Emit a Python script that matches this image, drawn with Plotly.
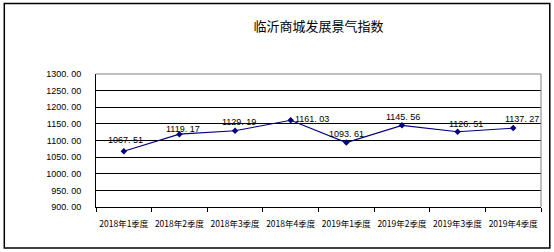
import plotly.graph_objects as go

categories = ["2018年1季度", "2018年2季度", "2018年3季度", "2018年4季度",
              "2019年1季度", "2019年2季度", "2019年3季度", "2019年4季度"]
values = [1067.51, 1119.17, 1129.19, 1161.03, 1093.61, 1145.56, 1126.51, 1137.27]
y_ticks = [900, 950, 1000, 1050, 1100, 1150, 1200, 1250, 1300]
title = "临沂商城发展景气指数"

W, H = 554, 252
L, R, T, B = 95.7, 540.7, 74.3, 206.7

def fmt(v):
    return "{:.2f}".format(v).replace(".", ". ")

fig = go.Figure()
fig.add_trace(go.Scatter(
    x=categories, y=values, mode="lines+markers",
    line=dict(color="#000080", width=1.1),
    marker=dict(symbol="diamond", size=5, color="#000080"),
    showlegend=False, hoverinfo="skip",
))

# label offsets (pixels): style only
xs = [2, 4, 4, 21, 0, 1, 8, 9]
ys = [11, 5, 9, 1, 9, 8, 8, 9]
for c, v, dx, dy in zip(categories, values, xs, ys):
    fig.add_annotation(x=c, y=v, text=fmt(v), showarrow=False,
                       xshift=dx, yshift=dy,
                       font=dict(family="Liberation Sans", size=9, color="#000000"))

def px_x(p):
    return (p - L) / (R - L)

def px_y(p):
    return (B - p) / (B - T)

fig.add_shape(type="rect", xref="paper", yref="paper",
              x0=px_x(4), x1=px_x(549.5), y0=px_y(247.5), y1=px_y(4),
              line=dict(color="#000000", width=1.5), layer="below")
# top & right plot border (gray)
fig.add_shape(type="line", xref="paper", yref="paper", x0=0, x1=1, y0=1, y1=1,
              line=dict(color="#808080", width=1))
fig.add_shape(type="line", xref="paper", yref="paper", x0=1, x1=1, y0=0, y1=1,
              line=dict(color="#808080", width=1))

fig.update_layout(
    width=W, height=H,
    margin=dict(l=L, r=W - R, t=T, b=H - B, autoexpand=False),
    paper_bgcolor="white", plot_bgcolor="white",
    title=dict(text=title, x=0.5, xref="paper", xanchor="center",
               y=1 - 26 / H, yanchor="middle",
               font=dict(family="Noto Sans CJK SC", size=13, color="#000000")),
    xaxis=dict(type="category", range=[-0.5, 7.5], tickson="boundaries",
               ticks="outside", ticklen=4, tickcolor="#000000",
               tickangle=0, automargin=False,
               showline=True, linecolor="#000000", linewidth=1,
               showgrid=False, zeroline=False, ticklabelstandoff=9,
               tickfont=dict(family="Noto Sans CJK SC", size=8.5, color="#000000")),
    yaxis=dict(range=[900, 1300], tickvals=y_ticks, automargin=False,
               ticktext=[fmt(v) for v in y_ticks],
               showline=True, linecolor="#000000", linewidth=1,
               showgrid=True, gridcolor="#000000", gridwidth=1,
               zeroline=False, ticks="", ticklabelstandoff=12,
               tickfont=dict(family="Liberation Sans", size=9, color="#000000")),
)

fig.write_html("out.html")
